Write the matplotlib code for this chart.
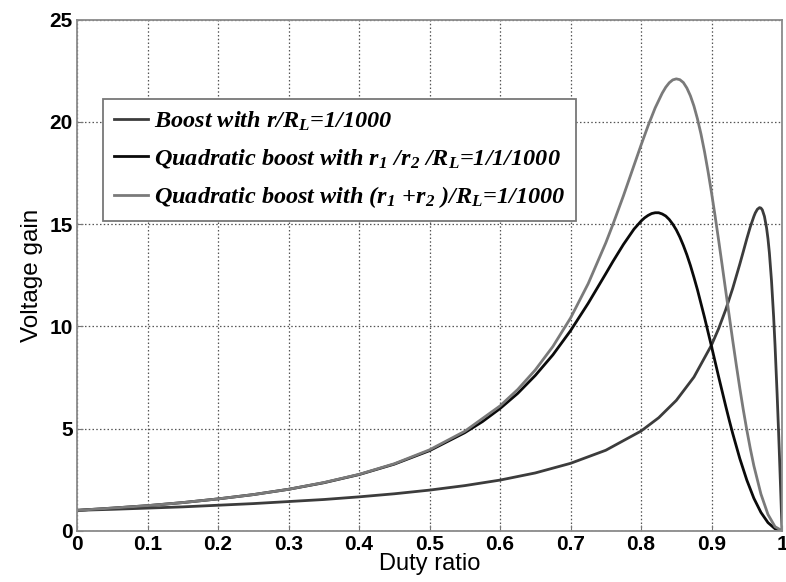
import matplotlib.pyplot as plt

# duty ratio / gain
d_boost = [0, 0.05, 0.1, 0.15, 0.2, 0.25, 0.3, 0.35, 0.4, 0.45, 0.5, 0.55, 0.6, 0.65,
           0.7, 0.75, 0.8, 0.825, 0.85, 0.875, 0.9, 0.91, 0.92, 0.93, 0.94, 0.945, 0.95,
           0.955, 0.96, 0.962, 0.965, 0.968, 0.97, 0.972, 0.975, 0.978, 0.98, 0.982,
           0.985, 0.988, 0.99, 0.993, 0.995, 0.996, 0.998, 1.0]
g_boost = [1.0, 1.05, 1.11, 1.17, 1.25, 1.33, 1.43, 1.53, 1.66, 1.81, 1.99, 2.21, 2.48, 2.83,
           3.30, 3.94, 4.88, 5.53, 6.38, 7.52, 9.09, 9.89, 10.81, 11.86, 13.04, 13.66, 14.29,
           14.88, 15.38, 15.55, 15.73, 15.81, 15.79, 15.70, 15.38, 14.82, 14.29, 13.60,
           12.24, 10.49, 9.09, 6.67, 4.88, 3.94, 1.99, 0.0]

d_quad = [0, 0.05, 0.1, 0.15, 0.2, 0.25, 0.3, 0.35, 0.4, 0.45, 0.5, 0.55, 0.575, 0.6,
          0.625, 0.65, 0.675, 0.7, 0.725, 0.75, 0.76, 0.775, 0.79, 0.8, 0.805, 0.81, 0.815,
          0.82, 0.825, 0.83, 0.835, 0.84, 0.845, 0.85, 0.855, 0.86, 0.865, 0.87, 0.875,
          0.88, 0.89, 0.9, 0.91, 0.92, 0.925, 0.93, 0.94, 0.95, 0.96, 0.97, 0.98, 0.99, 1.0]
g_quad = [1.0, 1.11, 1.23, 1.38, 1.56, 1.77, 2.03, 2.35, 2.75, 3.26, 3.92, 4.80, 5.34, 5.98,
          6.72, 7.60, 8.61, 9.79, 11.13, 12.58, 13.17, 14.01, 14.76, 15.15, 15.31, 15.43, 15.52,
          15.56, 15.56, 15.50, 15.40, 15.23, 15.00, 14.72, 14.37, 13.96, 13.50, 12.98, 12.40,
          11.79, 10.44, 9.01, 7.54, 6.11, 5.42, 4.76, 3.54, 2.48, 1.59, 0.90, 0.40, 0.10, 0.0]

d_quad2 = [0, 0.05, 0.1, 0.15, 0.2, 0.25, 0.3, 0.35, 0.4, 0.45, 0.5, 0.55, 0.6, 0.625,
           0.65, 0.675, 0.7, 0.725, 0.75, 0.76, 0.775, 0.79, 0.8, 0.81, 0.82, 0.83, 0.835,
           0.84, 0.845, 0.85, 0.855, 0.86, 0.865, 0.87, 0.875, 0.88, 0.885, 0.89, 0.895,
           0.9, 0.905, 0.91, 0.915, 0.92, 0.925, 0.93, 0.935, 0.94, 0.945, 0.95, 0.955,
           0.96, 0.97, 0.98, 0.99, 1.0]
g_quad2 = [1.0, 1.11, 1.23, 1.38, 1.56, 1.77, 2.03, 2.36, 2.76, 3.28, 3.96, 4.87, 6.11, 6.91,
           7.87, 9.02, 10.41, 12.09, 14.09, 14.98, 16.39, 17.88, 18.87, 19.82, 20.69, 21.41, 21.70,
           21.92, 22.06, 22.11, 22.07, 21.93, 21.66, 21.28, 20.78, 20.15, 19.41, 18.55, 17.58,
           16.53, 15.40, 14.22, 13.00, 11.76, 10.53, 9.31, 8.13, 6.99, 5.92, 4.93, 4.01,
           3.18, 1.80, 0.80, 0.20, 0.0]

labels = [
    r"Boost with r/R$_L$=1/1000",
    r"Quadratic boost with r$_1$ /r$_2$ /R$_L$=1/1/1000",
    r"Quadratic boost with (r$_1$ +r$_2$ )/R$_L$=1/1000",
]
colors = ["#3c3c3c", "#0a0a0a", "#7a7a7a"]

plt.rcParams["font.family"] = ["Liberation Sans", "DejaVu Sans"]
plt.rcParams["mathtext.fontset"] = "custom"
plt.rcParams["mathtext.rm"] = "Liberation Serif:bold:italic"
plt.rcParams["mathtext.it"] = "Liberation Serif:bold:italic"
plt.rcParams["mathtext.bf"] = "Liberation Serif:bold:italic"

fig = plt.figure(figsize=(7.86, 5.82), dpi=100)
ax = fig.add_axes([0.098, 0.088, 0.897, 0.878])

ax.plot(d_boost, g_boost, color=colors[0], lw=2.0, label=labels[0])
ax.plot(d_quad, g_quad, color=colors[1], lw=2.0, label=labels[1])
ax.plot(d_quad2, g_quad2, color=colors[2], lw=2.0, label=labels[2])

ax.set_xlim(0, 1)
ax.set_ylim(0, 25)
ax.set_xticks([i / 10 for i in range(11)])
ax.set_xticklabels(["0", "0.1", "0.2", "0.3", "0.4", "0.5", "0.6", "0.7", "0.8", "0.9", "1"])
ax.set_yticks([0, 5, 10, 15, 20, 25])
ax.tick_params(direction="in", length=4, width=0.8, colors="#777777", labelcolor="black",
               labelsize=15, pad=3)
for t in ax.get_xticklabels() + ax.get_yticklabels():
    t.set_fontweight("bold")
ax.grid(True, linestyle=(0, (1.2, 1.8)), color="#555555", lw=0.9)
for s in ax.spines.values():
    s.set_color("#8a8a8a")
    s.set_linewidth(1.3)

ax.set_xlabel("Duty ratio", fontsize=17, labelpad=-1)
ax.set_ylabel("Voltage gain", fontsize=17.5, labelpad=5)

leg = ax.legend(loc="upper left", bbox_to_anchor=(0.037, 0.845),
                handlelength=1.4, handletextpad=0.25, labelspacing=0.58,
                borderpad=0.45, borderaxespad=0, fancybox=False, framealpha=1,
                edgecolor="#777777", prop={"family": "Liberation Serif",
                                           "style": "italic", "weight": "bold",
                                           "size": 17.5})
leg.get_frame().set_linewidth(1.3)

fig.savefig("out.png", dpi=100)
